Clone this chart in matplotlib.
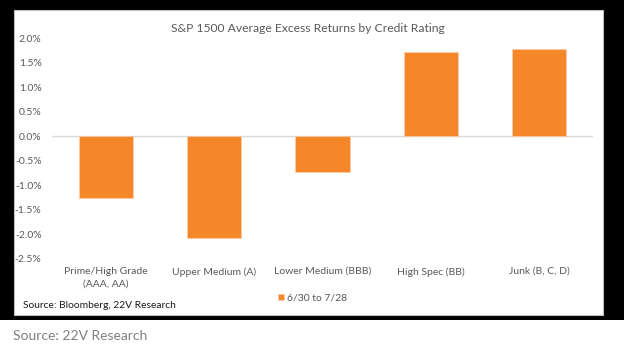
import matplotlib
matplotlib.use("Agg")
import matplotlib.pyplot as plt
from matplotlib.patches import Rectangle
from matplotlib.ticker import FuncFormatter, MultipleLocator

categories = ["Prime/High Grade\n(AAA, AA)", "Upper Medium (A)", "Lower Medium (BBB)",
              "High Spec (BB)", "Junk (B, C, D)"]
values = [-1.27, -2.07, -0.72, 1.73, 1.78]
series_name = "6/30 to 7/28"
title = "S&P 1500 Average Excess Returns by Credit Rating"
inner_source = "Source: Bloomberg, 22V Research"
outer_source = "Source: 22V Research"

W, H = 624, 344
FONT = ["Lato", "DejaVu Sans"]
plt.rcParams['font.family'] = FONT

fig = plt.figure(figsize=(W / 100, H / 100), dpi=100)
fig.patch.set_facecolor("white")

def px_rect(x0, y0, x1, y1, **kw):
    r = Rectangle((x0 / W, 1 - y1 / H), (x1 - x0) / W, (y1 - y0) / H,
                  transform=fig.transFigure, **kw)
    fig.patches.append(r)

# black frame and white chart box
px_rect(0, 0, W, 320, facecolor="black", edgecolor="none", zorder=0)
px_rect(14, 10, 603, 315, facecolor="white", edgecolor="#bfbfbf", linewidth=0.8, zorder=1)

ax = fig.add_axes([52 / W, 1 - 258.7 / H, 541 / W, 220.4 / H])
ax.set_facecolor("none")
ax.set_zorder(2)
x = list(range(len(categories)))
ax.bar(x, values, width=0.5, color="#F5862A", edgecolor="#FBD3B0", linewidth=0.4,
       label=series_name, zorder=2)
ax.set_xlim(-0.5, len(categories) - 0.5)
ax.set_ylim(-2.5, 2.0)
ax.yaxis.set_major_locator(MultipleLocator(0.5))
ax.yaxis.set_major_formatter(FuncFormatter(lambda v, p: f"{v:.1f}%"))
for s in ax.spines.values():
    s.set_visible(False)
ax.axhline(0, color="#d9d9d9", linewidth=1.0, zorder=1)
ax.tick_params(axis="y", length=0, pad=7.5, labelsize=7.5, labelcolor="#595959")
ax.tick_params(axis="x", length=0, pad=0)
ax.set_xticks(x)
ax.set_xticklabels([])
xt = ax.get_xaxis_transform()
for xi, c in zip(x, categories):
    ax.text(xi, -(267 - 258.7) / 220.4, c, transform=xt, ha="center", va="top",
            fontsize=7.5, color="#595959", linespacing=1.55)

fig.text(308 / W, 1 - 28 / H, title, ha="center", va="center", fontsize=8.7,
         color="#595959")
leg = ax.legend(loc="center left", bbox_to_anchor=(278 / W, 1 - 298 / H),
                bbox_transform=fig.transFigure, frameon=False, fontsize=7.5,
                handlelength=0.6, handleheight=0.6, handletextpad=0.3,
                borderpad=0, borderaxespad=0)
for t in leg.get_texts():
    t.set_color("#595959")
fig.text(23 / W, 1 - 305.5 / H, inner_source, ha="left", va="center",
         fontsize=7.4, color="#1a1a1a", zorder=3)
fig.text(13 / W, 1 - 335.5 / H, outer_source, ha="left", va="center",
         fontsize=10, color="#808080", zorder=3)

fig.savefig("out.png", dpi=100, facecolor=fig.get_facecolor())
